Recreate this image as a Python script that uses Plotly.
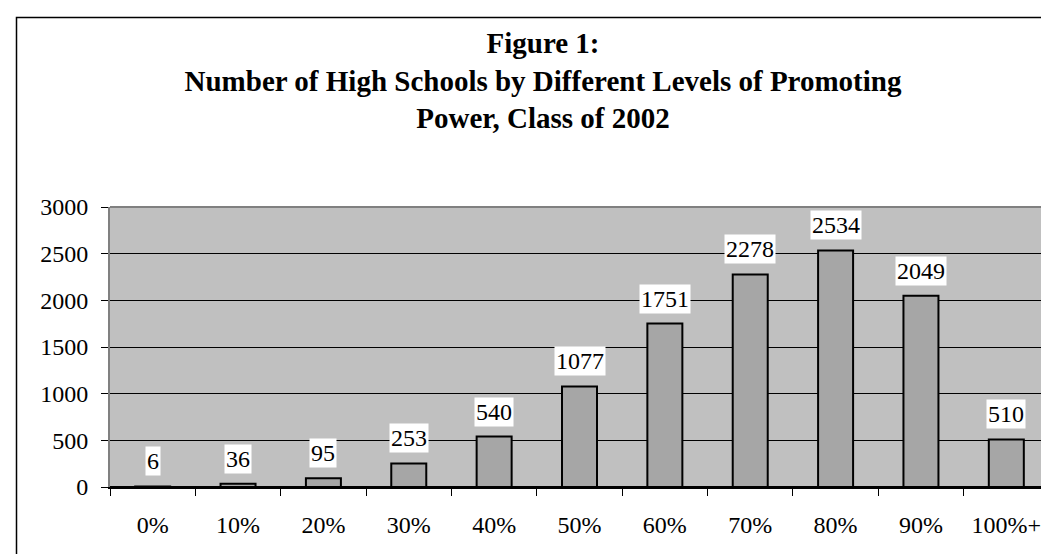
import plotly.graph_objects as go

categories = ["0%", "10%", "20%", "30%", "40%", "50%", "60%", "70%", "80%", "90%", "100%+"]
schools = [6, 36, 95, 253, 540, 1077, 1751, 2278, 2534, 2049, 510]
y_ticks = [0, 500, 1000, 1500, 2000, 2500, 3000]

W, H = 1049, 554
ML, MR, MT, MB = 102, 8, 199, 75
PW, PH = W - ML - MR, H - MT - MB

SERIF = "Liberation Serif, Times New Roman, serif"

fig = go.Figure()
fig.add_trace(go.Bar(
    x=categories, y=schools,
    marker=dict(color="#A6A6A6", line=dict(color="black", width=2)),
    width=0.41,
    hoverinfo="x+y",
))

for c, v in zip(categories, schools):
    fig.add_annotation(
        x=c, y=v, text=str(v), showarrow=False,
        yanchor="bottom", yshift=10,
        bgcolor="white", borderpad=1,
        font=dict(family=SERIF, size=24, color="black"),
    )

def px_to_paper_x(px):
    return (px - ML) / PW

def px_to_paper_y(py):
    return (H - MB - py) / PH

# outer chart frame (extends past right/bottom edge of image)
fig.add_shape(type="rect", xref="paper", yref="paper",
              x0=px_to_paper_x(8.5), x1=px_to_paper_x(1070),
              y0=px_to_paper_y(570), y1=px_to_paper_y(9.5),
              line=dict(color="black", width=1.5), layer="below")
# plot area border: top and right in gray
fig.add_shape(type="line", xref="paper", yref="paper", x0=0, x1=1, y0=1, y1=1,
              line=dict(color="#808080", width=2))
fig.add_shape(type="line", xref="paper", yref="paper", x0=1, x1=1, y0=0, y1=1,
              line=dict(color="#808080", width=2))

fig.update_layout(
    width=W, height=H,
    margin=dict(l=ML, r=MR, t=MT, b=MB),
    paper_bgcolor="white",
    plot_bgcolor="#C0C0C0",
    showlegend=False,
    title=dict(
        text="<b>Figure 1:<br>Number of High Schools by Different Levels of Promoting<br>Power, Class of 2002</b>",
        x=535 / W, xanchor="center",
        y=1 - 45 / H, yanchor="middle", yref="container",
        font=dict(family=SERIF, size=29, color="black"),
    ),
    font=dict(family=SERIF, size=24, color="black"),
    xaxis=dict(
        type="category",
        showgrid=False,
        ticks="outside", tickson="boundaries", ticklen=7, tickcolor="black", tickwidth=1,
        showline=True, linecolor="black", linewidth=1.5,
        tickfont=dict(family=SERIF, size=24, color="black"),
        ticklabelstandoff=15,
        zeroline=False,
    ),
    yaxis=dict(
        range=[0, 3000],
        tickvals=y_ticks,
        showgrid=True, gridcolor="black", gridwidth=1,
        ticks="outside", ticklen=7, tickcolor="black", tickwidth=1,
        showline=True, linecolor="#808080", linewidth=2,
        tickfont=dict(family=SERIF, size=24, color="black"),
        ticklabelstandoff=8,
        zeroline=True, zerolinecolor="black", zerolinewidth=1.5,
        fixedrange=True,
    ),
)

fig.write_html("out.html")
